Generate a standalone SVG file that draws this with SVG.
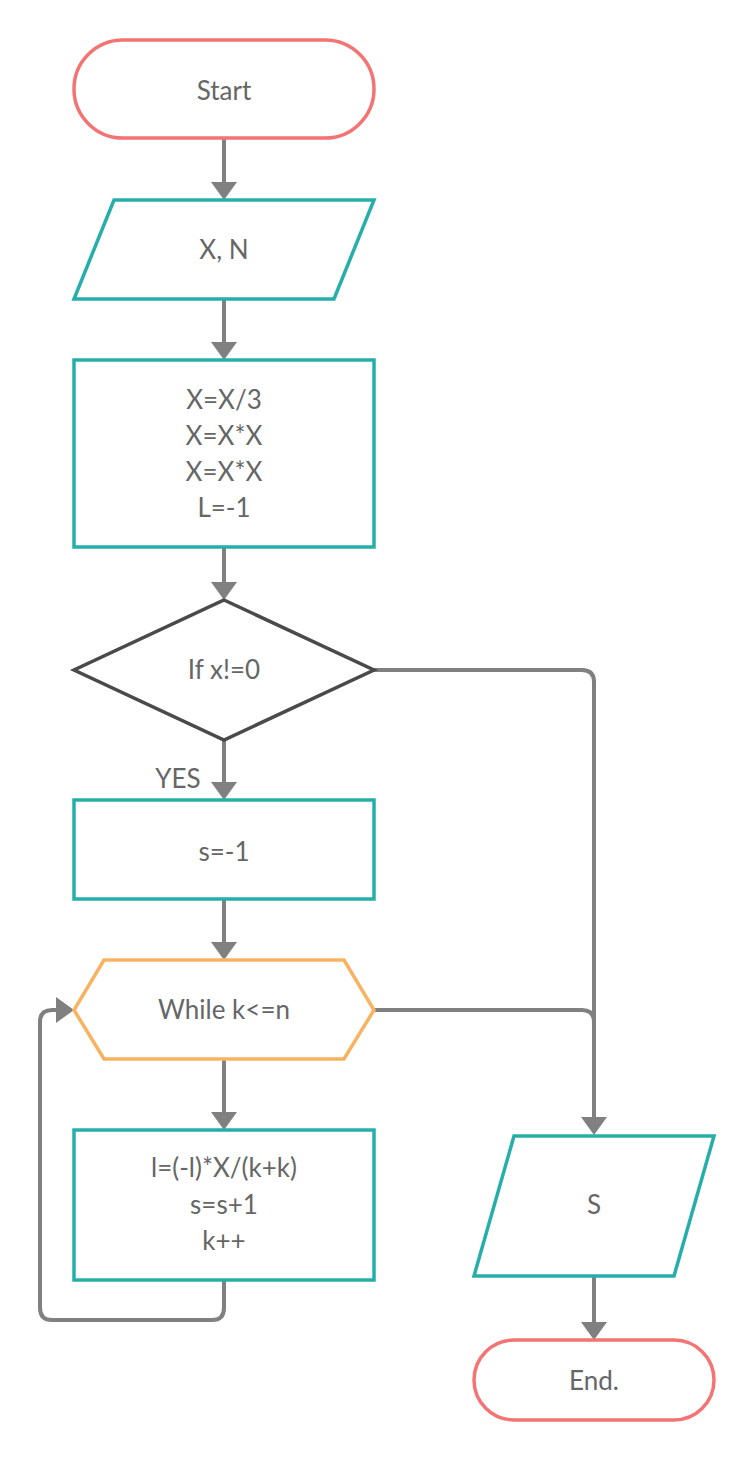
<svg xmlns="http://www.w3.org/2000/svg" width="755" height="1460" viewBox="0 0 755 1460">
  <defs>
    <style>
      .term { fill: #ffffff; stroke: #f47373; stroke-width: 3.5; }
      .proc { fill: #ffffff; stroke: #26aeaa; stroke-width: 3.5; }
      .dec { fill: #ffffff; stroke: #4a4a4a; stroke-width: 3.5; }
      .loop { fill: #ffffff; stroke: #f8b262; stroke-width: 3.5; }
      .lbl { font-family: Lato, "Open Sans", "Liberation Sans", sans-serif; font-size: 26px; fill: #666666; text-anchor: middle; dominant-baseline: central; }
      .edge { fill: none; stroke: #808080; stroke-width: 4; }
    </style>
    <marker id="arrow" viewBox="0 -13 18 26" refX="0" refY="0" markerWidth="18" markerHeight="26" markerUnits="userSpaceOnUse" orient="auto">
      <path d="M0,-13 L18,0 L0,13 z" fill="#808080"/>
    </marker>
  </defs>
  <rect width="755" height="1460" fill="#ffffff"/>

  <!-- connectors -->
  <g id="connectors">
    <path class="edge" d="M224,138 V182" marker-end="url(#arrow)"/>
    <path class="edge" d="M224,299 V342" marker-end="url(#arrow)"/>
    <path class="edge" d="M224,547 V582" marker-end="url(#arrow)"/>
    <path class="edge" d="M224,740 V782" marker-end="url(#arrow)"/>
    <path class="edge" d="M224,899 V942" marker-end="url(#arrow)"/>
    <path class="edge" d="M224,1059 V1112" marker-end="url(#arrow)"/>
    <path class="edge" d="M374,670 H582 Q594,670 594,682 V1117" marker-end="url(#arrow)"/>
    <path class="edge" d="M374,1010 H582 Q594,1010 594,1022 V1040"/>
    <path class="edge" d="M224,1280 V1308 Q224,1320 212,1320 H52 Q40,1320 40,1308 V1022 Q40,1010 52,1010 H56" marker-end="url(#arrow)"/>
    <path class="edge" d="M594,1276 V1322" marker-end="url(#arrow)"/>
    <text class="lbl" x="178" y="778">YES</text>
  </g>

  <g id="start">
    <rect class="term" x="74" y="40" width="300" height="98" rx="49" ry="49"/>
    <text class="lbl" x="224" y="90">Start</text>
  </g>

  <g id="input-xn">
    <polygon class="proc" points="114,200 374,200 334,299 74,299"/>
    <text class="lbl" x="224" y="249">X, N</text>
  </g>

  <g id="init">
    <rect class="proc" x="74" y="360" width="300" height="187"/>
    <text class="lbl" x="224" y="399">X=X/3</text>
    <text class="lbl" x="224" y="435">X=X*X</text>
    <text class="lbl" x="224" y="471">X=X*X</text>
    <text class="lbl" x="224" y="507">L=-1</text>
  </g>

  <g id="check-x">
    <polygon class="dec" points="224,600 374,670 224,740 74,670"/>
    <text class="lbl" x="224" y="669">If x!=0</text>
  </g>

  <g id="set-s">
    <rect class="proc" x="74" y="800" width="300" height="99"/>
    <text class="lbl" x="224" y="851">s=-1</text>
  </g>

  <g id="while">
    <polygon class="loop" points="104,960 344,960 374,1010 344,1059 104,1059 74,1010"/>
    <text class="lbl" x="224" y="1009">While k&lt;=n</text>
  </g>

  <g id="body">
    <rect class="proc" x="74" y="1130" width="300" height="150"/>
    <text class="lbl" x="224" y="1167">l=(-l)*X/(k+k)</text>
    <text class="lbl" x="224" y="1204">s=s+1</text>
    <text class="lbl" x="224" y="1240">k++</text>
  </g>

  <g id="output-s">
    <polygon class="proc" points="514,1136 714,1136 674,1276 474,1276"/>
    <text class="lbl" x="594" y="1204">S</text>
  </g>

  <g id="end">
    <rect class="term" x="474" y="1340" width="240" height="80" rx="40" ry="40"/>
    <text class="lbl" x="594" y="1380">End.</text>
  </g>
</svg>
